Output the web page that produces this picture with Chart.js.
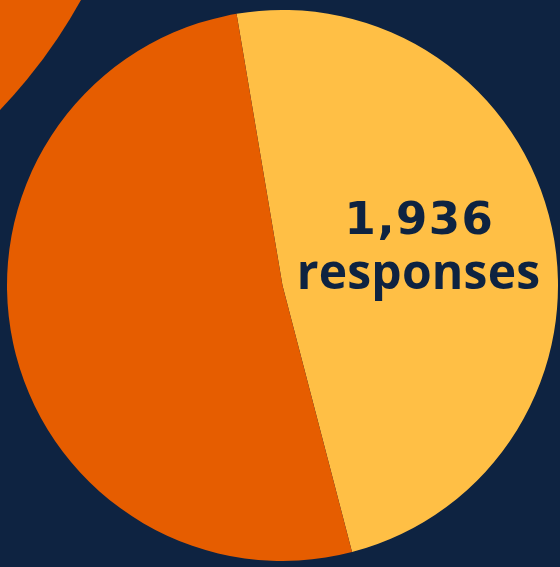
<!DOCTYPE html>
<html>
<head>
<meta charset="utf-8">
<script src="https://cdn.jsdelivr.net/npm/chart.js@4/dist/chart.umd.min.js"></script>
<style>
  html, body { margin: 0; padding: 0; }
  body {
    width: 560px; height: 567px; overflow: hidden;
    background: #0e2341; position: relative;
  }
  /* decorative circle peeking in at the top left */
  .deco {
    position: absolute; left: -920px; top: -793px;
    width: 1068px; height: 1068px; border-radius: 50%;
    background: #e65d00;
  }
  .pie-wrap {
    position: absolute; left: 6.5px; top: 10px;
    width: 551px; height: 551px;
  }
  .label {
    position: absolute; left: 418.5px; transform: translateX(-50%);
    color: #0e2341; white-space: nowrap; line-height: 1;
  }
  #total {
    font-family: "DejaVu Sans", sans-serif; font-weight: 700;
    font-size: 45px; top: 196px; letter-spacing: 1.5px; margin-left: 1px;
  }
  #unit {
    font-family: "Open Sans", sans-serif; font-weight: 700;
    font-size: 48px; top: 247px; letter-spacing: 0.2px;
  }
</style>
</head>
<body>
<div class="deco"></div>
<div class="pie-wrap"><canvas id="pie"></canvas></div>
<div class="label" id="total"></div>
<div class="label" id="unit">responses</div>

<script>
// data
const categories = ['Yes', 'No'];
const responses = [941, 995];
const sliceColors = ['#ffbf45', '#e65d00'];

document.addEventListener('DOMContentLoaded', () => {
  const total = responses.reduce((a, b) => a + b, 0);
  document.getElementById('total').textContent = total.toLocaleString('en-US');

  const ctx = document.getElementById('pie').getContext('2d');
  new Chart(ctx, {
    type: 'pie',
    data: {
      labels: categories,
      datasets: [{
        data: responses,
        backgroundColor: sliceColors,
        borderWidth: 0,
        hoverOffset: 0
      }]
    },
    options: {
      responsive: true,
      maintainAspectRatio: false,
      animation: false,
      rotation: -9.6,
      layout: { padding: 0 },
      plugins: {
        legend: { display: false },
        tooltip: { enabled: false }
      }
    }
  });
});
</script>
</body>
</html>
